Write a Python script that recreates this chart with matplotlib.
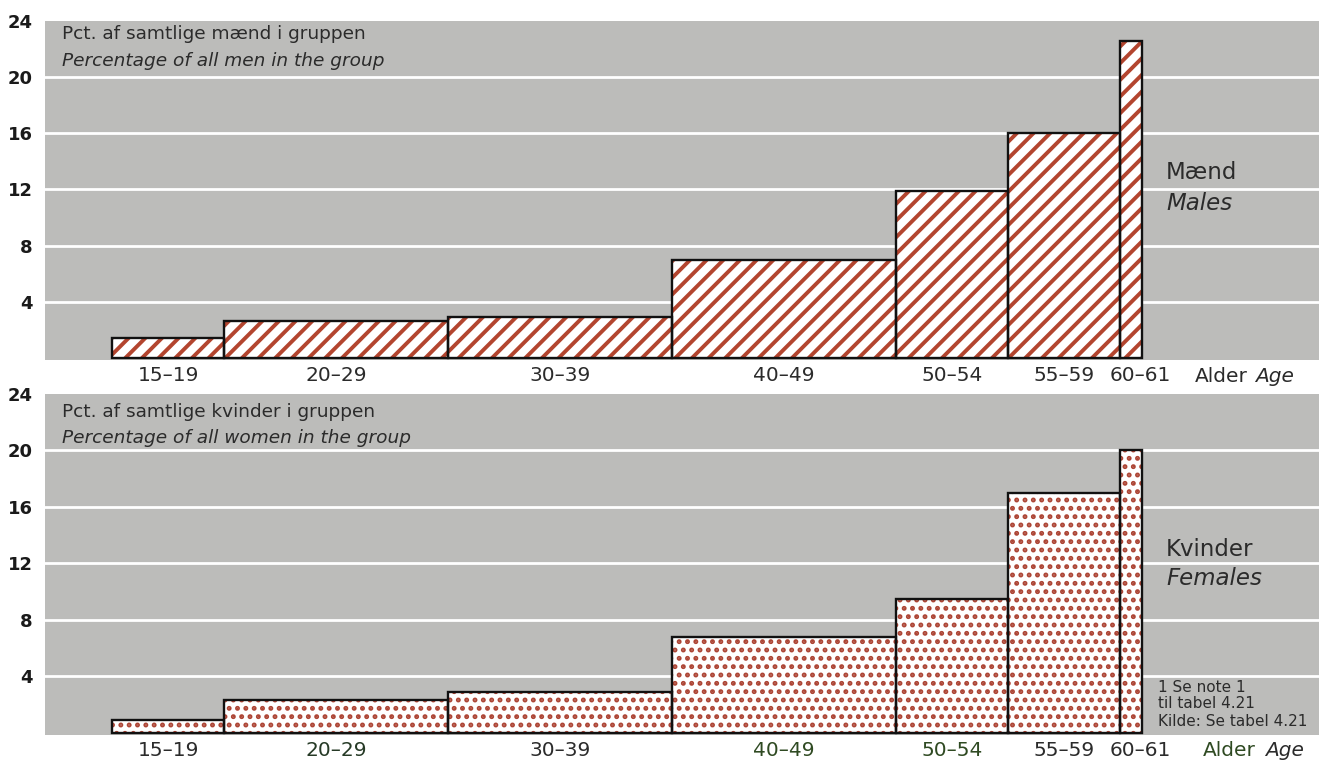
import matplotlib.pyplot as plt
from matplotlib.transforms import ScaledTranslation

plt.rcParams['font.family'] = ['DejaVu Sans']
plt.rcParams['hatch.linewidth'] = 2.8

# Aldersgrupper (kanter i år) og procenter
alder_kanter = [15, 20, 30, 40, 50, 55, 60, 61]
alder_labels = ["15–19", "20–29", "30–39", "40–49", "50–54", "55–59", "60–61"]
maend = [1.4, 2.6, 2.9, 7.0, 11.9, 16.0, 22.6]
kvinder = [0.9, 2.3, 2.9, 6.8, 9.5, 17.0, 20.0]
y_ticks = [4, 8, 12, 16, 20, 24]

GRAA = '#bcbcba'
ROED = '#b3452f'
PRIK = '#ad4535'
MOERK = '#2b2b2b'
GROEN = '#2f4a22'

venstre = alder_kanter[:-1]
bredder = [b - a for a, b in zip(alder_kanter[:-1], alder_kanter[1:])]
midter = [a + w / 2 for a, w in zip(venstre, bredder)]

fig = plt.figure(figsize=(13.19, 7.6), dpi=100)
ax1 = fig.add_axes([45 / 1319, 1 - 360 / 760, 1 - 45 / 1319, 339 / 760])
ax2 = fig.add_axes([45 / 1319, 1 - 735 / 760, 1 - 45 / 1319, 341 / 760])


def tegn_panel(ax, vaerdier, monster, farve, hlw, titler, navne, y_titel, y_navn, label_farver):
    ax.set_facecolor(GRAA)
    with plt.rc_context({'hatch.linewidth': hlw}):
        ax.bar(venstre, vaerdier, width=bredder, align='edge', color='white',
               edgecolor=farve, hatch=monster, linewidth=0, zorder=2)
    ax.bar(venstre, vaerdier, width=bredder, align='edge', color='none',
           edgecolor='#111111', linewidth=1.7, zorder=3)
    ax.set_xlim(12.0, 68.9)
    ax.set_ylim(-0.15, 24)
    ax.set_yticks(y_ticks)
    ax.set_yticklabels([str(t) for t in y_ticks], fontsize=13, fontweight='bold', color='#1a1a1a')
    ax.yaxis.grid(True, color='white', linewidth=2)
    ax.get_ygridlines()[-1].set_visible(False)
    ax.set_axisbelow(True)
    ax.tick_params(length=0, axis='y', pad=9)
    ax.tick_params(length=0, axis='x', pad=4)
    ax.set_xticks(midter)
    ax.set_xticklabels(alder_labels, fontsize=14.5)
    for lab, f in zip(ax.get_xticklabels(), label_farver):
        lab.set_color(f)
    sidste = ax.get_xticklabels()[-1]
    sidste.set_transform(sidste.get_transform() + ScaledTranslation(0.09, 0, fig.dpi_scale_trans))
    for s in ax.spines.values():
        s.set_visible(False)
    ax.text(0.0133, y_titel[0], titler[0], transform=ax.transAxes, fontsize=13.3,
            color=MOERK, va='center', ha='left')
    ax.text(0.0133, y_titel[1], titler[1], transform=ax.transAxes, fontsize=13.3,
            color=MOERK, va='center', ha='left', style='italic')
    ax.text(0.88, y_navn[0], navne[0], transform=ax.transAxes, fontsize=16.5,
            color=MOERK, va='center', ha='left')
    ax.text(0.88, y_navn[1], navne[1], transform=ax.transAxes, fontsize=16.5,
            color=MOERK, va='center', ha='left', style='italic')


tegn_panel(ax1, maend, '//', ROED, 2.8,
           ["Pct. af samtlige mænd i gruppen", "Percentage of all men in the group"],
           ["Mænd", "Males"], [0.962, 0.882], [0.552, 0.463], [MOERK] * 7)
# prikker: linjebredde holdt lavt nok til at prikkerne bliver fyldte
tegn_panel(ax2, kvinder, '..', PRIK, 2.3,
           ["Pct. af samtlige kvinder i gruppen", "Percentage of all women in the group"],
           ["Kvinder", "Females"], [0.946, 0.872], [0.543, 0.46],
           [MOERK, '#263a26', MOERK, GROEN, GROEN, MOERK, MOERK])

# Alder Age
fig.text(1195 / 1319, 1 - 376 / 760, "Alder", fontsize=14.5, color=MOERK, va='center')
fig.text(1255 / 1319, 1 - 376 / 760, "Age", fontsize=14.5, color=MOERK, va='center', style='italic')
fig.text(1203 / 1319, 1 - 751 / 760, "Alder", fontsize=14.5, color=GROEN, va='center')
fig.text(1265 / 1319, 1 - 751 / 760, "Age", fontsize=14.5, color=MOERK, va='center', style='italic')

# Fodnote
fig.text(1158 / 1319, 1 - 687 / 760, "1 Se note 1", fontsize=11, color=MOERK, va='center')
fig.text(1158 / 1319, 1 - 704 / 760, "til tabel 4.21", fontsize=11, color=MOERK, va='center')
fig.text(1158 / 1319, 1 - 722 / 760, "Kilde: Se tabel 4.21", fontsize=11, color=MOERK, va='center')

plt.savefig("out.png", dpi=100)
